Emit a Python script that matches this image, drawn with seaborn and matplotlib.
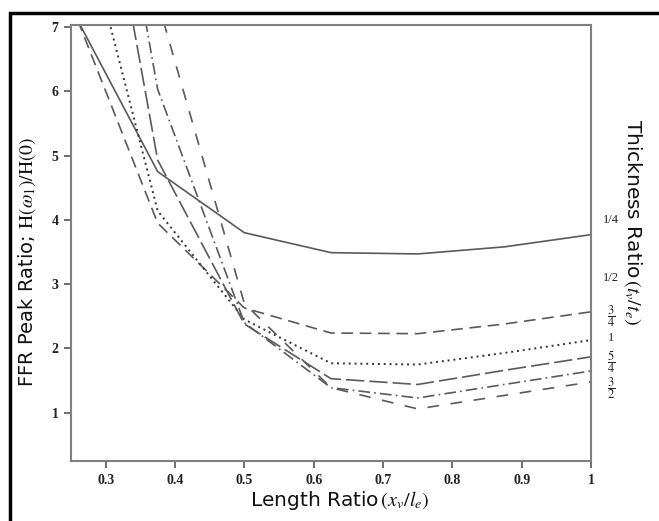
import numpy as np
import pandas as pd
import matplotlib
matplotlib.use("Agg")
import matplotlib.pyplot as plt
import seaborn as sns
from matplotlib.patches import Rectangle

# length ratio x_v/l_e
length_ratio = [0.25, 0.375, 0.5, 0.625, 0.75, 0.875, 1.0]

# FFR peak ratio per thickness ratio t_v/t_e
ffr_t14 = [7.30, 4.75, 3.80, 3.49, 3.47, 3.58, 3.77]
ffr_t12 = [7.37, 3.95, 2.63, 2.24, 2.23, 2.38, 2.57]
ffr_t34 = [9.40, 4.14, 2.45, 1.77, 1.75, 1.93, 2.13]
ffr_t1 = [12.4, 4.93, 2.38, 1.53, 1.44, 1.66, 1.87]
ffr_t54 = [13.6, 6.03, 2.40, 1.39, 1.23, 1.44, 1.65]
ffr_t32 = [16.0, 7.40, 2.70, 1.39, 1.06, 1.27, 1.48]

thickness = ["1/4", "1/2", "3/4", "1", "5/4", "3/2"]
label_tex = ["1/4", "1/2", r"$\dfrac{3}{4}$", "1", r"$\dfrac{5}{4}$", r"$\dfrac{3}{2}$"]
label_y = [220, 278, 316, 338, 362, 388]  # pixel rows of the side labels

series = [ffr_t14, ffr_t12, ffr_t34, ffr_t1, ffr_t54, ffr_t32]
rows = []
for t, vals in zip(thickness, series):
    for x, v in zip(length_ratio, vals):
        rows.append({"length": x, "ffr": v, "thickness": t})
df = pd.DataFrame(rows)

dash_map = {
    "1/4": "",
    "1/2": (7, 4),
    "3/4": (1, 2.0),
    "1": (11, 3),
    "5/4": (7, 2.5, 1, 2.5),
    "3/2": (7, 7),
}

sns.set_style("ticks")
plt.rcParams.update({
    "mathtext.fontset": "stix",
    "font.family": ["DejaVu Sans"],
})

W, H = 659, 521
fig = plt.figure(figsize=(W / 100, H / 100), dpi=100)
ax = fig.add_axes([71 / W, 1 - 461 / H, (591 - 71) / W, (461 - 25) / H])

sns.lineplot(data=df, x="length", y="ffr", style="thickness", dashes=dash_map,
             color="#5a5a5a", linewidth=1.2, legend=False, ax=ax, sort=False)
# the dotted curve reads darker in the reference
ax.lines[2].set_color("#333333")
ax.lines[2].set_linewidth(1.4)

ax.set_xlim(0.25, 1.0)
ax.set_ylim(0.25, 7.03)
ax.set_xticks([0.3, 0.4, 0.5, 0.6, 0.7, 0.8, 0.9, 1.0])
ax.set_xticklabels(["0.3", "0.4", "0.5", "0.6", "0.7", "0.8", "0.9", "1"])
ax.set_yticks([1, 2, 3, 4, 5, 6, 7])
ax.set_yticklabels(["1", "2", "3", "4", "5", "6", "7"])
for lab in ax.get_xticklabels() + ax.get_yticklabels():
    lab.set_fontfamily("Liberation Serif")
    lab.set_fontweight("bold")
    lab.set_fontsize(10)
    lab.set_color("#222222")
ax.tick_params(axis="both", which="major", direction="out", length=5, width=1.2,
               color="#555555", bottom=True, left=True, top=False, right=False, pad=4)
for s in ax.spines.values():
    s.set_visible(True)
    s.set_color("#808080")
    s.set_linewidth(1.5)
ax.set_xlabel("")
ax.set_ylabel("")

fig.text(340 / W, 1 - 500 / H, r"Length Ratio$\,(x_v/l_e)$", ha="center", va="center",
         fontsize=14.5, color="#111111")
fig.text(27 / W, 1 - 262 / H, r"FFR Peak Ratio; $\mathrm{H}(\omega_1)/\mathrm{H}(0)$",
         rotation=90, ha="center", va="center", fontsize=14, color="#111111")
fig.text(633 / W, 1 - 222 / H, r"Thickness Ratio$\,(t_v/t_e)$", rotation=270,
         ha="center", va="center", fontsize=14.5, color="#111111")

for lab, py in zip(label_tex, label_y):
    fig.text(611 / W, 1 - py / H, lab, ha="center", va="center", fontsize=9,
             family="Liberation Serif", color="#222222")

fig.patches.append(Rectangle((9.5 / W, -0.5), 2, 1 - 13 / H + 0.5, transform=fig.transFigure,
                             fill=False, edgecolor="black", linewidth=2.5))

fig.savefig("out.png", dpi=100)
